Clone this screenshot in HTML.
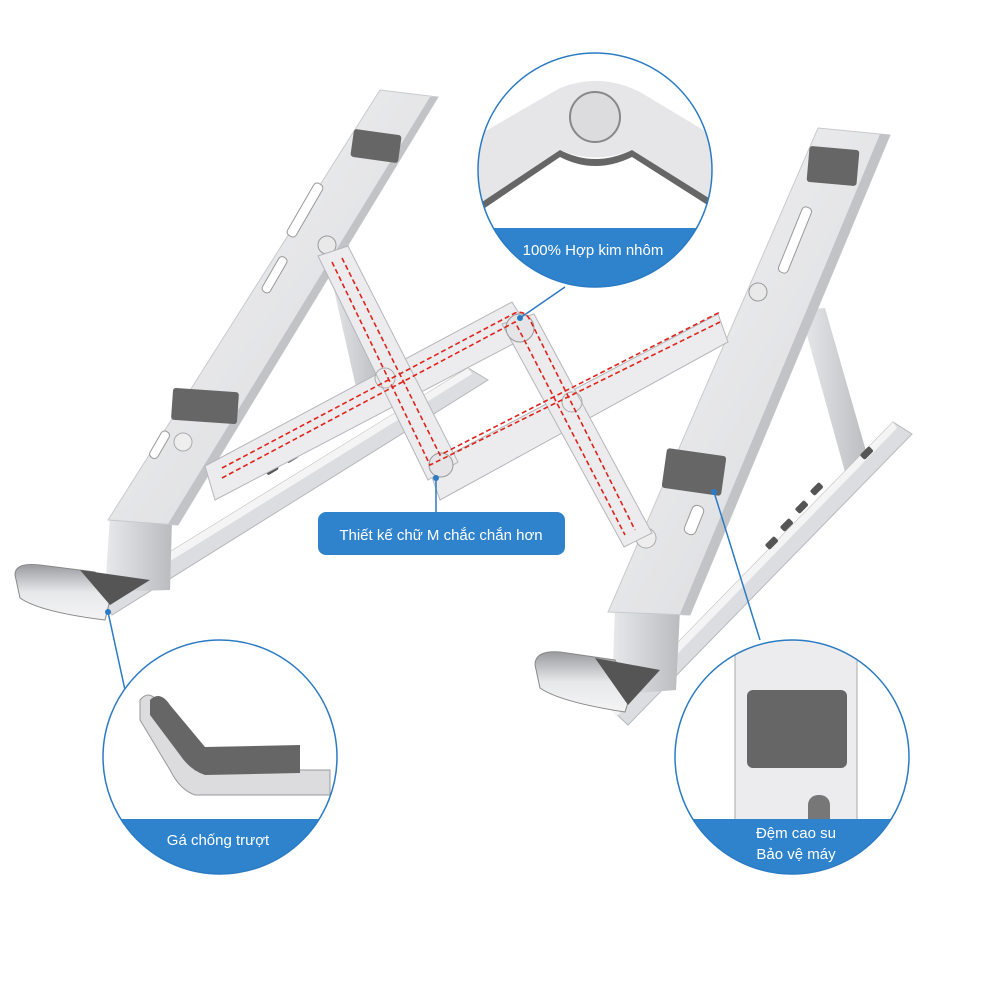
<!DOCTYPE html>
<html><head><meta charset="utf-8"><style>
html,body{margin:0;padding:0;background:#fff}
svg{display:block}
text{font-family:"Liberation Sans",sans-serif}
</style></head><body>
<svg width="1000" height="1000" viewBox="0 0 1000 1000" xmlns="http://www.w3.org/2000/svg">
<defs>
<linearGradient id="al" x1="0" y1="0" x2="1" y2="1"><stop offset="0" stop-color="#f4f4f6"/><stop offset="1" stop-color="#d6d7da"/></linearGradient>
<linearGradient id="al2" x1="0" y1="0" x2="1" y2="0"><stop offset="0" stop-color="#e8e9eb"/><stop offset="1" stop-color="#b9bbbf"/></linearGradient>
<linearGradient id="foot" x1="0" y1="0" x2="0" y2="1"><stop offset="0" stop-color="#9a9b9e"/><stop offset="0.5" stop-color="#e7e8ea"/><stop offset="1" stop-color="#f4f4f5"/></linearGradient>
<clipPath id="c1"><circle cx="595" cy="170" r="117"/></clipPath>
<clipPath id="c2"><circle cx="220" cy="757" r="117"/></clipPath>
<clipPath id="c3"><circle cx="792" cy="757" r="117"/></clipPath>
</defs>

<!-- LEFT STAND -->
<polygon points="325,250 350,255 385,405 360,405" fill="url(#al2)"/>
<polygon points="100,595 468,368 488,380 112,615" fill="#dcdde0" stroke="#b8b9bc" stroke-width="1"/>
<polygon points="100,595 468,368 472,374 104,602" fill="#f4f4f5"/>
<g fill="#555"><rect x="265" y="466" width="13" height="7" rx="2" transform="rotate(-31 271 469)"/><rect x="285" y="454" width="13" height="7" rx="2" transform="rotate(-31 291 457)"/><rect x="305" y="442" width="13" height="7" rx="2" transform="rotate(-31 311 445)"/><rect x="325" y="430" width="13" height="7" rx="2" transform="rotate(-31 331 433)"/><rect x="345" y="418" width="13" height="7" rx="2" transform="rotate(-31 351 421)"/></g>
<polygon points="110,515 172,520 170,590 105,592" fill="url(#al2)"/>
<polygon points="380,90 438,97 178,525 108,520" fill="url(#al)" stroke="#c9cacd" stroke-width="1"/>
<polygon points="430,97 438,97 178,525 168,524" fill="#c2c3c6"/>
<rect x="352" y="132" width="48" height="28" rx="3" fill="#666" transform="rotate(8 376 146)"/>
<rect x="172" y="390" width="66" height="32" rx="3" fill="#666" transform="rotate(4 205 406)"/>
<rect x="300" y="180" width="10" height="60" rx="4" fill="#fff" stroke="#999" transform="rotate(30 305 210)"/>
<rect x="270" y="255" width="9" height="40" rx="4" fill="#fff" stroke="#999" transform="rotate(30 275 275)"/>
<rect x="155" y="430" width="9" height="30" rx="4" fill="#fff" stroke="#999" transform="rotate(30 160 445)"/>
<circle cx="183" cy="442" r="9" fill="#eee" stroke="#aaa"/>
<circle cx="327" cy="245" r="9" fill="#e9e9e9" stroke="#999"/>
<path d="M15,575 Q15,562 40,565 L95,572 L110,600 L105,620 Q40,612 20,598 Z" fill="url(#foot)" stroke="#888"/>
<polygon points="80,570 150,580 110,605" fill="#555"/>

<!-- RIGHT STAND -->
<polygon points="800,310 825,308 870,465 845,472" fill="url(#al2)"/>
<polygon points="612,710 893,422 912,434 628,725" fill="#dcdde0" stroke="#b8b9bc"/>
<polygon points="612,710 893,422 897,428 616,717" fill="#f4f4f5"/>
<g fill="#555"><rect x="765" y="540" width="13" height="7" rx="2" transform="rotate(-45 771 543)"/><rect x="780" y="522" width="13" height="7" rx="2" transform="rotate(-45 786 525)"/><rect x="795" y="504" width="13" height="7" rx="2" transform="rotate(-45 801 507)"/><rect x="810" y="486" width="13" height="7" rx="2" transform="rotate(-45 816 489)"/><rect x="860" y="450" width="13" height="7" rx="2" transform="rotate(-45 866 453)"/></g>
<polygon points="615,605 680,610 676,690 612,695" fill="url(#al2)"/>
<polygon points="818,128 890,135 690,615 608,612" fill="url(#al)" stroke="#c9cacd"/>
<polygon points="880,134 890,135 690,615 680,614" fill="#c2c3c6"/>
<rect x="808" y="148" width="50" height="36" rx="3" fill="#666" transform="rotate(5 833 166)"/>
<rect x="664" y="452" width="60" height="40" rx="3" fill="#666" transform="rotate(8 694 472)"/>
<rect x="790" y="205" width="10" height="70" rx="4" fill="#fff" stroke="#999" transform="rotate(22 795 240)"/>
<rect x="688" y="505" width="12" height="30" rx="5" fill="#fff" stroke="#999" transform="rotate(22 694 520)"/>
<circle cx="646" cy="538" r="10" fill="#eee" stroke="#aaa"/>
<circle cx="758" cy="292" r="9" fill="#e9e9e9" stroke="#999"/>
<path d="M535,665 Q535,650 560,652 L615,660 L632,690 L625,712 Q560,702 540,688 Z" fill="url(#foot)" stroke="#888"/>
<polygon points="595,658 660,670 628,705" fill="#555"/>

<!-- M linkage -->
<g fill="#ececee" stroke="#b5b6b9" stroke-width="1">
<polygon points="205,466 512,302 532,334 215,500"/>
<polygon points="428,466 718,314 728,342 440,500"/>
<polygon points="318,256 348,246 458,462 428,480"/>
<polygon points="502,324 534,314 652,533 624,547"/>
</g>
<circle cx="520" cy="328" r="14" fill="#e5e5e7" stroke="#999"/>
<circle cx="441" cy="465" r="12" fill="#e5e5e7" stroke="#999"/>
<circle cx="385" cy="378" r="10" fill="none" stroke="#aaa"/>
<circle cx="572" cy="402" r="10" fill="none" stroke="#aaa"/>
<g fill="none" stroke="#e0231c" stroke-width="1.6" stroke-dasharray="5,3">
<path d="M222,478 L515,322 L625,535"/>
<path d="M222,468 L515,313 Q525,310 530,320 L635,530"/>
<path d="M332,262 L430,465 L720,322"/>
<path d="M342,258 L440,455 L720,312"/>
</g>

<!-- connectors -->
<g stroke="#2b7bc4" stroke-width="1.5" fill="none">
<line x1="520" y1="318" x2="565" y2="287"/>
<line x1="436" y1="478" x2="436" y2="515"/>
<line x1="108" y1="612" x2="125" y2="690"/>
<line x1="714" y1="492" x2="760" y2="640"/>
</g>
<g fill="#2b7bc4"><circle cx="520" cy="318" r="3"/><circle cx="436" cy="478" r="3"/><circle cx="108" cy="612" r="3"/><circle cx="714" cy="492" r="3"/></g>

<rect x="318" y="512" width="247" height="43" rx="8" fill="#2f82cc"/>
<text x="441" y="540" font-size="15" fill="#fff" text-anchor="middle">Thiết kế chữ M chắc chắn hơn</text>

<!-- top circle -->
<circle cx="595" cy="170" r="117" fill="#fff"/>
<g clip-path="url(#c1)">
<path d="M470,140 L560,88 Q600,72 640,92 L720,140 L720,205 L632,150 Q595,165 560,150 L470,210 Z" fill="#e6e6e8"/>
<path d="M470,210 L560,150 Q595,168 632,150 L720,205 L720,213 L632,157 Q595,175 560,157 L470,218 Z" fill="#666"/>
<circle cx="595" cy="117" r="25" fill="#dcdcde" stroke="#888" stroke-width="2"/>
<rect x="470" y="228" width="260" height="70" fill="#2f82cc"/>
</g>
<circle cx="595" cy="170" r="117" fill="none" stroke="#2b7bc4" stroke-width="1.5"/>
<text x="593" y="255" font-size="15" fill="#fff" text-anchor="middle">100% Hợp kim nhôm</text>

<!-- bottom-left circle -->
<circle cx="220" cy="757" r="117" fill="#fff"/>
<g clip-path="url(#c2)">
<path d="M140,700 Q150,688 160,705 L195,770 L330,770 L330,795 L195,795 Q180,790 170,770 L140,720 Z" fill="#dcdcde" stroke="#999"/>
<path d="M150,700 Q160,690 170,705 L205,747 L300,745 L300,773 L205,775 Q190,770 180,755 L150,715 Z" fill="#666"/>
<rect x="100" y="819" width="260" height="70" fill="#2f82cc"/>
</g>
<circle cx="220" cy="757" r="117" fill="none" stroke="#2b7bc4" stroke-width="1.5"/>
<text x="218" y="845" font-size="15" fill="#fff" text-anchor="middle">Gá chống trượt</text>

<!-- bottom-right circle -->
<circle cx="792" cy="757" r="117" fill="#fff"/>
<g clip-path="url(#c3)">
<rect x="735" y="630" width="122" height="200" fill="#ececee" stroke="#aaa"/>
<rect x="747" y="690" width="100" height="78" rx="6" fill="#666"/>
<rect x="808" y="795" width="22" height="40" rx="10" fill="#777"/>
<rect x="670" y="819" width="260" height="70" fill="#2f82cc"/>
</g>
<circle cx="792" cy="757" r="117" fill="none" stroke="#2b7bc4" stroke-width="1.5"/>
<text x="796" y="838" font-size="15" fill="#fff" text-anchor="middle">Đệm cao su</text>
<text x="796" y="859" font-size="15" fill="#fff" text-anchor="middle">Bảo vệ máy</text>
</svg>
</body></html>
